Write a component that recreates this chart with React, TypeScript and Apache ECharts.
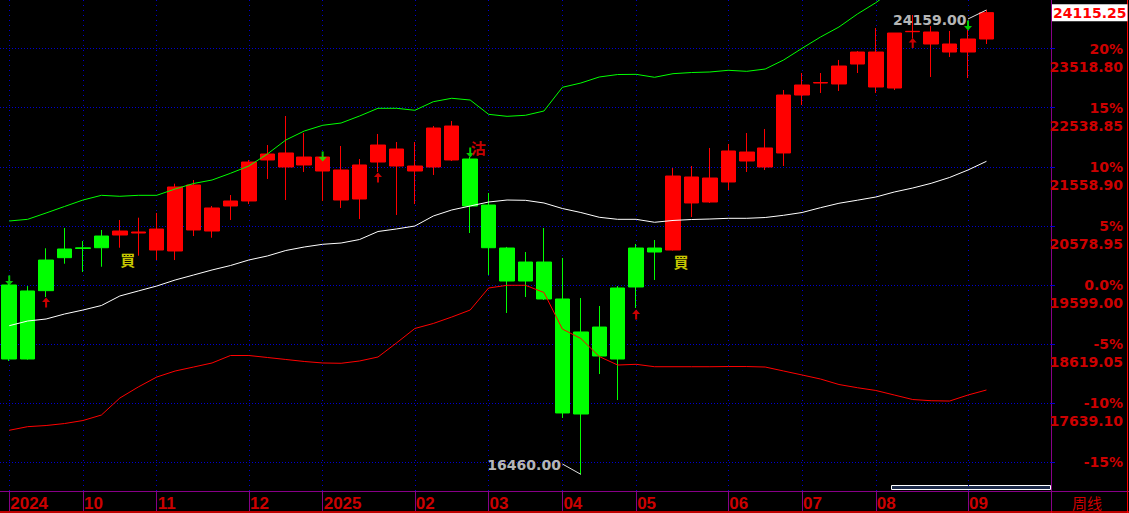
import React, { useEffect, useRef } from 'react';
import * as echarts from 'echarts';

// ---------- data ----------
const basePrice = 19599;
const lastPrice = 24115.25;

const weeks = [
  '2024-09-02', '2024-09-09', '2024-09-16', '2024-09-23', '2024-09-30', '2024-10-07', '2024-10-14', '2024-10-21',
  '2024-10-28', '2024-11-04', '2024-11-11', '2024-11-18', '2024-11-25', '2024-12-02', '2024-12-09', '2024-12-16',
  '2024-12-23', '2024-12-30', '2025-01-06', '2025-01-13', '2025-01-20', '2025-01-27', '2025-02-03', '2025-02-10',
  '2025-02-17', '2025-02-24', '2025-03-03', '2025-03-10', '2025-03-17', '2025-03-24', '2025-03-31', '2025-04-07',
  '2025-04-14', '2025-04-21', '2025-04-28', '2025-05-05', '2025-05-12', '2025-05-19', '2025-05-26', '2025-06-02',
  '2025-06-09', '2025-06-16', '2025-06-23', '2025-06-30', '2025-07-07', '2025-07-14', '2025-07-21', '2025-07-28',
  '2025-08-04', '2025-08-11', '2025-08-18', '2025-08-25', '2025-09-01', '2025-09-08', '2025-09-15', '2025-09-22',
  '2025-09-29',
];

const monthTickIdx = [0, 4, 8, 13, 17, 22, 26, 30, 34, 39, 43, 47, 52];
const monthTickText = ['2024', '10', '11', '12', '2025', '02', '03', '04', '05', '06', '07', '08', '09'];

const opens = [
  19599, 19500, 20013, 20196, 20215, 20411, 20428, 20461, 20179, 20163, 20511, 20494, 20909, 20992, 21672, 21556,
  21589, 21489, 21008, 21025, 21638, 21572, 21489, 21556, 21672, 21688, 20925, 20212, 19980, 19980, 19367, 18820,
  18902, 19549, 20212, 20212, 20179, 20959, 20975, 21307, 21655, 21556, 21788, 22749, 22948, 22932, 23263, 22882,
  22865, 23799, 23595, 23462, 23462, 23678,
];
const closes = [
  18372, 18372, 19505, 20052, 20205, 20217, 20494, 20478, 20527, 21224, 21257, 20876, 20992, 21638, 21771, 21788,
  21721, 21721, 21506, 21589, 21920, 21854, 21572, 22202, 22235, 20909, 20217, 19665, 19665, 19367, 17477, 17460,
  18422, 18372, 19566, 20146, 21406, 21390, 21373, 21821, 21804, 21871, 22749, 22915, 22956, 23230, 23462, 23462,
  23777, 23805, 23794, 23595, 23678, 24115.25,
];
const lows = [
  18339, 18360, 19400, 19952, 19815, 19902, 20217, 20085, 20013, 20013, 20411, 20383, 20677, 20942, 21357, 21008,
  21473, 20992, 20876, 20693, 21473, 20760, 20942, 21423, 21655, 20461, 19765, 19135, 19400, 19350, 17394, 16460,
  18123, 17692, 19218, 19682, 20170, 20726, 20959, 21174, 21473, 21506, 21572, 22584, 22783, 22816, 23114, 22783,
  22832, 23690, 23048, 23379, 23031, 23595,
];
const highs = [
  19615, 19582, 20208, 20544, 20329, 20511, 20677, 20715, 20793, 21279, 21340, 20909, 21091, 21672, 21920, 22401,
  22119, 21740, 21904, 21688, 22103, 21970, 21970, 22235, 22318, 21721, 21124, 20230, 20146, 20544, 20047, 19383,
  19251, 19582, 20279, 20345, 21539, 21572, 21871, 21937, 22119, 22186, 22832, 23114, 23114, 23330, 23479, 23860,
  23777, 24076, 23893, 23811, 23827, 24159,
];

const bollUpper = [
  20660, 20688, 20793, 20901, 21008, 21086, 21070, 21086, 21086, 21191, 21282, 21340, 21451, 21572, 21771, 22003,
  22152, 22247, 22285, 22401, 22529, 22529, 22496, 22638, 22695, 22666, 22429, 22396, 22413, 22484, 22877, 22948,
  23048, 23089, 23092, 23043, 23103, 23122, 23131, 23159, 23142, 23180, 23330, 23524, 23711, 23877, 24092, 24280,
  24507, 24713, 24889, 25088, 25237, 25442,
];
const bollMid = [
  18924, 19002, 19035, 19118, 19184, 19259, 19417, 19500, 19582, 19682, 19765, 19848, 19922, 20014, 20080, 20171,
  20229, 20274, 20295, 20353, 20486, 20528, 20577, 20743, 20843, 20909, 20975, 21008, 21003, 20959, 20867, 20801,
  20722, 20688, 20688, 20639, 20669, 20685, 20693, 20705, 20705, 20718, 20755, 20801, 20881, 20954, 21005, 21058,
  21141, 21207, 21285, 21382, 21506, 21650,
];
const bollLower = [
  17190, 17250, 17269, 17302, 17352, 17443, 17725, 17908, 18073, 18173, 18239, 18306, 18430, 18430, 18397, 18364,
  18331, 18306, 18301, 18339, 18405, 18637, 18878, 18961, 19068, 19184, 19549, 19594, 19594, 19475, 18869, 18712,
  18413, 18272, 18284, 18244, 18244, 18244, 18244, 18247, 18247, 18239, 18173, 18107, 18040, 17949, 17896, 17850,
  17775, 17700, 17680, 17675, 17775, 17858,
];

const pctLevels = [-15, -10, -5, 0, 5, 10, 15, 20];

const sellArrows = [[0, 19674], [17, 21730], [25, 21796], [52, 23902]];
const buyArrows = [[2, 19309], [20, 21381], [34, 19110], [49, 23612]];
const buyTexts = [[6, 20030], [36, 19989]];
const sellTexts = [[25, 21879]];

const highMarkFrom = [52, 24010];
const highMarkTo = [53, 24159];
const lowMarkFrom = [30, 16631];
const lowMarkTo = [31, 16460];

const yMin = 16183.3;
const yMax = 24324.6;

// ---------- component ----------
const UP_ARROW = 'path://M4,0 L8,4 L5,4 L5,9 L3,9 L3,4 L0,4 Z';
const DOWN_ARROW = 'path://M3,0 L5,0 L5,5 L8,5 L4,9 L0,5 L3,5 Z';
const RED = '#ff0000';
const GREEN = '#00ff00';
const AXIS_RED = '#cc0000';
const PURPLE = '#880088';
const GRID_BLUE = '#0000d0';

export default function App() {
  const ref = useRef<HTMLDivElement>(null);

  useEffect(() => {
    if (!ref.current) return;
    const chart = echarts.init(ref.current, undefined, { renderer: 'svg' });
    const isMonth = (i: number) => monthTickIdx.indexOf(i) >= 0;
    const pctPrices = pctLevels.map((p) => +(basePrice * (1 + p / 100)).toFixed(2));
    const candleData = opens.map((o, i) => [o, closes[i], lows[i], highs[i]]);

    chart.setOption({
      animation: false,
      backgroundColor: '#000000',
      grid: { left: 0, right: 78, top: 0, bottom: 22, containLabel: false, outerBoundsMode: 'none' },
      xAxis: {
        type: 'category',
        data: weeks,
        boundaryGap: true,
        axisLine: { show: true, lineStyle: { color: PURPLE, width: 1 } },
        axisTick: { show: true, alignWithLabel: true, interval: (i: number) => isMonth(i), length: 20, lineStyle: { color: PURPLE } },
        splitLine: { show: true, alignWithLabel: true, interval: (i: number) => isMonth(i), lineStyle: { color: GRID_BLUE, type: [1, 4], width: 1 } },
        axisLabel: {
          interval: (i: number) => isMonth(i),
          formatter: (_v: string, i: number) => monthTickText[monthTickIdx.indexOf(i)] || '',
          align: 'left',
          margin: 4,
          padding: [0, 0, 0, 1],
          color: AXIS_RED,
          fontFamily: 'Liberation Sans',
          fontWeight: 'bold',
          fontSize: 17,
          lineHeight: 17,
        },
      },
      yAxis: {
        type: 'value',
        position: 'right',
        min: yMin,
        max: yMax,
        axisLine: { show: true, lineStyle: { color: PURPLE, width: 1 } },
        axisTick: { show: true, customValues: pctPrices, length: 4, lineStyle: { color: GRID_BLUE } },
        splitLine: { show: true, lineStyle: { color: GRID_BLUE, type: [1, 2], width: 1 } },
        axisLabel: {
          customValues: pctPrices,
          margin: 72,
          align: 'right',
          verticalAlign: 'middle',
          padding: [18, 0, 0, 0],
          formatter: (v: number) => {
            const pct = Math.round((v / basePrice - 1) * 100);
            const pTxt = pct === 0 ? '0.0%' : pct + '%';
            const vTxt = pct === -15 ? ' ' : v.toFixed(2);
            return '{p|' + pTxt + '}\n{v|' + vTxt + '}';
          },
          rich: {
            p: { color: AXIS_RED, fontFamily: 'DejaVu Sans', fontWeight: 'bold', fontSize: 14, lineHeight: 18, align: 'right' },
            v: { color: AXIS_RED, fontFamily: 'DejaVu Sans', fontWeight: 'bold', fontSize: 14, lineHeight: 18, align: 'right' },
          },
        },
      },
      series: [
        {
          type: 'candlestick',
          data: candleData,
          barWidth: 15,
          itemStyle: { color: RED, color0: GREEN, borderColor: RED, borderColor0: GREEN, borderWidth: 1 },
          markLine: {
            silent: true,
            symbol: ['none', 'none'],
            lineStyle: { color: 'transparent', width: 0 },
            label: {
              show: true,
              position: 'end',
              distance: 1,
              formatter: '24115.25',
              color: RED,
              backgroundColor: '#ffffff',
              padding: [2, 1, 1, 1],
              fontFamily: 'DejaVu Sans',
              fontWeight: 'bold',
              fontSize: 14,
            },
            data: [{ yAxis: lastPrice }],
          },
        },
        {
          type: 'line',
          data: bollUpper,
          symbol: 'none',
          smooth: false,
          lineStyle: { color: GREEN, width: 1 },
          z: 3,
        },
        {
          type: 'line',
          data: bollMid,
          symbol: 'none',
          smooth: false,
          lineStyle: { color: '#ffffff', width: 1 },
          z: 3,
        },
        {
          type: 'line',
          data: bollLower,
          symbol: 'none',
          smooth: false,
          lineStyle: { color: RED, width: 1 },
          z: 3,
        },
        {
          type: 'scatter',
          data: sellArrows,
          symbol: DOWN_ARROW,
          symbolSize: [8, 10],
          itemStyle: { color: GREEN },
          z: 4,
        },
        {
          type: 'scatter',
          data: buyArrows,
          symbol: UP_ARROW,
          symbolSize: [8, 10],
          itemStyle: { color: RED },
          z: 4,
        },
        {
          type: 'scatter',
          data: buyTexts,
          symbolSize: 1,
          itemStyle: { color: 'transparent' },
          label: {
            show: true,
            position: 'right',
            distance: 0,
            formatter: '買',
            color: '#ffff00',
            fontFamily: 'Noto Sans CJK SC',
            fontWeight: 'bold',
            fontSize: 15,
          },
          z: 4,
        },
        {
          type: 'scatter',
          data: sellTexts,
          symbolSize: 1,
          itemStyle: { color: 'transparent' },
          label: {
            show: true,
            position: 'right',
            distance: 0,
            formatter: '沽',
            color: RED,
            fontFamily: 'Noto Sans CJK SC',
            fontWeight: 'bold',
            fontSize: 15,
          },
          z: 4,
        },
        {
          type: 'scatter',
          data: [
            { value: highMarkFrom, label: { formatter: highMarkTo[1].toFixed(2) } },
            { value: lowMarkFrom, label: { formatter: lowMarkTo[1].toFixed(2) } },
          ],
          symbolSize: 1,
          itemStyle: { color: 'transparent' },
          label: {
            show: true,
            position: 'left',
            distance: 1,
            offset: [0, 1],
            color: '#e8e8e8',
            fontFamily: 'DejaVu Sans',
            fontWeight: 'bold',
            fontSize: 14,
          },
          markLine: {
            silent: true,
            symbol: ['none', 'none'],
            lineStyle: { color: '#e0e0e0', width: 1, type: 'solid' },
            label: { show: false },
            data: [
              [{ coord: highMarkFrom }, { coord: highMarkTo }],
              [{ coord: lowMarkFrom }, { coord: lowMarkTo }],
            ],
          },
          z: 5,
        },
      ],
      graphic: [
        { type: 'line', shape: { x1: 1051.5, y1: 491, x2: 1051.5, y2: 513 }, style: { stroke: PURPLE, lineWidth: 1 } },
        { type: 'line', shape: { x1: 1051, y1: 491.5, x2: 1129, y2: 491.5 }, style: { stroke: PURPLE, lineWidth: 1 } },
        { type: 'line', shape: { x1: 0, y1: 512, x2: 1129, y2: 512 }, style: { stroke: RED, lineWidth: 1.5 } },
        { type: 'line', shape: { x1: 1127.5, y1: 0, x2: 1127.5, y2: 513 }, style: { stroke: RED, lineWidth: 1 } },
        { type: 'rect', shape: { x: 891.5, y: 485.5, width: 159, height: 4 }, style: { fill: '#1c2a4a', stroke: '#ffffff', lineWidth: 1 } },
        {
          type: 'text',
          x: 1072,
          y: 495,
          style: { text: '周线', fill: AXIS_RED, font: '15px "Noto Sans CJK SC"' },
        },
      ],
    });

    return () => chart.dispose();
  }, []);

  return <div ref={ref} style={{ position: 'fixed', left: 0, top: 0, width: 1129, height: 513 }} />;
}
